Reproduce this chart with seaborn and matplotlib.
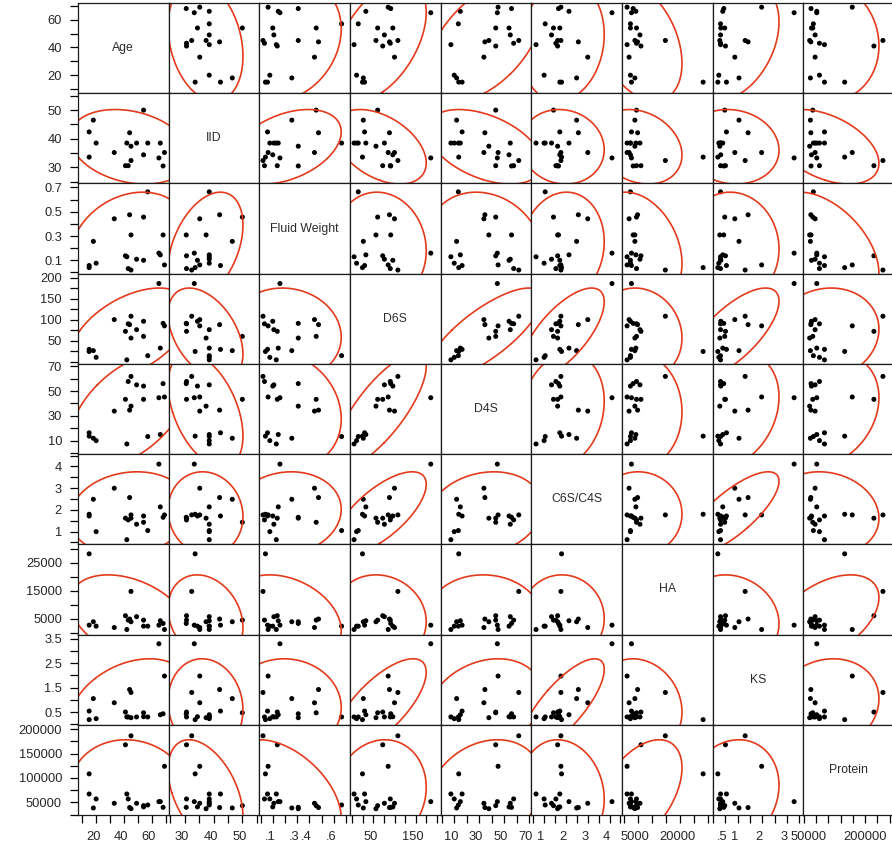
import matplotlib
matplotlib.use("Agg")
import warnings
warnings.filterwarnings("ignore")

import matplotlib.pyplot as plt
from matplotlib.transforms import ScaledTranslation
import numpy as np
import pandas as pd
import seaborn as sns

VARS = ["Age", "IID", "Fluid Weight", "D6S", "D4S", "C6S/C4S", "HA", "KS", "Protein"]

AGE = [15, 15, 18, 20, 33, 41, 42, 43, 44, 45, 45, 49, 54, 54, 57, 65, 66, 68, 69]
IID = [33.6, 42.4, 46.5, 38.5, 35.2, 30.6, 38.5, 30.6, 42.1, 37.4, 32.4, 38.5, 50.0,
       34.4, 38.5, 33.3, 38.5, 30.5, 35.2]
FLUID = [0.04, 0.057, 0.256, 0.076, 0.442, 0.137, 0.129, 0.032, 0.475, 0.309, 0.02,
         0.109, 0.456, 0.10, 0.664, 0.159, 0.145, 0.309, 0.062]
D6S = [24, 29, 26, 10, 100, 72, 4, 90, 88, 56, 108, 76, 60, 96, 14, 186, 32, 91, 85]
D4S = [13.6, 16.3, 11.9, 10.0, 33.8, 43.3, 7.3, 57.7, 34.6, 37.8, 61.8, 55.0, 43.3,
       54.0, 13.3, 44.6, 14.9, 56.0, 45.2]
C6S = [1.80, 1.72, 2.49, 1.00, 3.00, 1.62, 0.63, 1.54, 2.57, 1.62, 1.77, 1.34, 1.43,
       1.72, 1.05, 4.11, 2.14, 1.66, 1.77]
HA = [28200, 2700, 3920, 2340, 1860, 6080, 1150, 4500, 4890, 3920, 14760, 5730, 4500,
      2340, 2340, 2700, 4280, 3310, 1150]
KS = [0.19, 0.54, 1.05, 0.23, 0.88, 0.50, 0.30, 0.30, 1.42, 0.27, 1.30, 0.30, 0.47,
      0.31, 0.30, 3.29, 0.39, 0.43, 1.97]
PROTEIN = [108300, 67100, 38400, 56900, 48000, 167900, 67100, 56900, 39300, 36900,
           186300, 48000, 43200, 40600, 44500, 51400, 51400, 39700, 123800]

# axis ranges, tick step and labelled ticks (y = left side, x = bottom)
LIMS = {"Age": (7, 72), "IID": (24.4, 55.9), "Fluid Weight": (-0.01, 0.733),
        "D6S": (-5.6, 209.5), "D4S": (-0.9, 71.9), "C6S/C4S": (0.415, 4.57),
        "HA": (-660, 31600), "KS": (-0.02, 3.665), "Protein": (24000, 208900)}
STEP = {"Age": 10, "IID": 5, "Fluid Weight": 0.1, "D6S": 25, "D4S": 10,
        "C6S/C4S": 0.5, "HA": 5000, "KS": 0.5, "Protein": 25000}
YLAB = {"Age": ["20", "40", "60"], "IID": ["30", "40", "50"],
        "Fluid Weight": ["0.1", "0.3", "0.5", "0.7"], "D6S": ["50", "100", "150", "200"],
        "D4S": ["10", "30", "50", "70"], "C6S/C4S": ["1", "2", "3", "4"],
        "HA": ["5000", "15000", "25000"], "KS": ["0.5", "1.5", "2.5", "3.5"],
        "Protein": ["50000", "100000", "150000", "200000"]}
XLAB = {"Age": ["20", "40", "60"], "IID": ["30", "40", "50"],
        "Fluid Weight": [".1", ".3", ".4", ".6"], "D6S": ["50", "150"],
        "D4S": ["10", "30", "50", "70"], "C6S/C4S": ["1", "2", "3", "4"],
        "HA": ["5000", "20000"], "KS": [".5", "1", "2", "3"],
        "Protein": ["50000", "200000"]}

RED = "#E43A1C"
EDGE = "#1c1c1c"

df = pd.DataFrame(dict(zip(VARS, [AGE, IID, FLUID, D6S, D4S, C6S, HA, KS, PROTEIN])))

sns.set_theme(style="white", rc={"axes.edgecolor": EDGE, "axes.linewidth": 0.9})
plt.rcParams["font.family"] = ["Liberation Sans", "DejaVu Sans"]


def density_ellipse(x, y, **kws):
    # 95% bivariate normal density ellipse
    ax = plt.gca()
    xy = np.column_stack([x, y]).astype(float)
    mu = xy.mean(axis=0)
    vals, vecs = np.linalg.eigh(np.cov(xy, rowvar=False))
    t = np.linspace(0, 2 * np.pi, 240)
    circ = np.vstack([np.cos(t), np.sin(t)])
    pts = (vecs @ (np.sqrt(vals * 5.991)[:, None] * circ)).T + mu
    ax.plot(pts[:, 0], pts[:, 1], color=RED, lw=1.2, solid_capstyle="round")


def tick_set(v, labels):
    lo, hi = LIMS[v]
    step = STEP[v]
    ticks = np.round(np.arange(np.ceil(lo / step) * step, hi + 1e-9, step), 6)
    lab = {round(float(s), 6): s for s in labels}
    return ticks, [lab.get(round(t, 6), "") for t in ticks]


g = sns.PairGrid(df, vars=VARS, height=0.94, despine=False)
g.map_offdiag(sns.scatterplot, color="black", s=13, edgecolor="none", linewidth=0)
g.map_offdiag(density_ellipse)

fig = g.figure
fig.set_size_inches(8.92, 8.49)
fig.subplots_adjust(left=78 / 892, right=894 / 892, bottom=1 - 815 / 849,
                    top=1 - 3 / 849, wspace=0, hspace=0)

n = len(VARS)
for i, rv in enumerate(VARS):
    for j, cv in enumerate(VARS):
        ax = g.axes[i, j]
        ax.set_xlabel("")
        ax.set_ylabel("")
        if i == j:
            ax.text(0.5, 0.5, rv, transform=ax.transAxes, ha="center", va="center",
                    fontsize=8.8, color="#2b2b2b")
        for sp in ax.spines.values():
            sp.set_color(EDGE)
            sp.set_linewidth(0.9)
        ax.tick_params(axis="x", bottom=(i == n - 1), labelbottom=(i == n - 1),
                       direction="out", length=5.5, width=0.9, color="black",
                       labelsize=9.3, pad=6)
        ax.tick_params(axis="y", left=(j == 0), labelleft=(j == 0),
                       direction="out", length=5.5, width=0.9, color="black",
                       labelsize=9.3, pad=6)

for k, v in enumerate(VARS):
    yax = g.axes[k, 0]
    yax.set_ylim(*LIMS[v])
    yt, yl = tick_set(v, YLAB[v])
    yax.set_yticks(yt, yl)

    xax = g.axes[n - 1, k]
    xax.set_xlim(*LIMS[v])
    xt, xl = tick_set(v, XLAB[v])
    xax.set_xticks(xt, xl)

# bottom labels sit slightly left of their ticks
shift = ScaledTranslation(-3 / 100, 0, fig.dpi_scale_trans)
for k in range(n):
    for lbl in g.axes[n - 1, k].get_xticklabels():
        lbl.set_transform(lbl.get_transform() + shift)
last = [l for l in g.axes[n - 1, n - 1].get_xticklabels() if l.get_text()]
last[0].set_transform(last[0].get_transform()
                      + ScaledTranslation(-4 / 100, 0, fig.dpi_scale_trans))
last[-1].set_horizontalalignment("right")

fig.savefig("out.png", dpi=100)
